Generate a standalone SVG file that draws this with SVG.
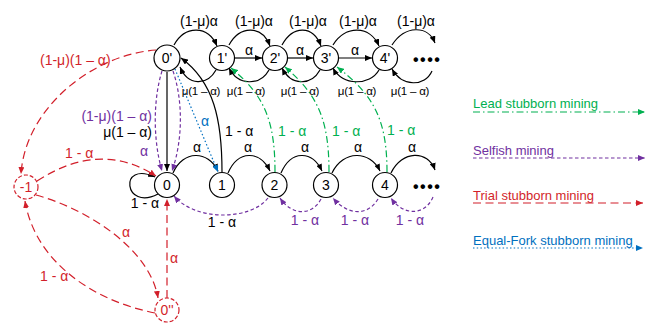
<svg xmlns="http://www.w3.org/2000/svg" width="658" height="325" viewBox="0 0 658 325">
<style>
text{font-family:"Liberation Sans",Arial,sans-serif;font-size:14px;fill:#000}
.n circle{fill:#fff;stroke:#000;stroke-width:1.2}
.n text{text-anchor:middle}
.c path{fill:none;stroke-width:1.2}
.k{stroke:#000;marker-end:url(#ak)}
.p{stroke:#7030a0;stroke-dasharray:3.5 2.5;marker-end:url(#ap)}
.g{stroke:#00b050;stroke-dasharray:7 3 1.5 3;marker-end:url(#ag)}
.r{stroke:#d21f2a;stroke-dasharray:8 4.5;marker-end:url(#ar)}
.b{stroke:#0070c0;stroke-dasharray:1.5 2.2;marker-end:url(#ab)}
.tp{fill:#7030a0}.tg{fill:#00b050}.tr{fill:#d21f2a}.tb{fill:#0070c0}
.m{text-anchor:middle}.s{font-size:11.5px;letter-spacing:-0.2px}
.leg{font-size:13px}
</style>
<defs>
<marker id="ak" markerWidth="7" markerHeight="6" refX="7" refY="3" orient="auto" markerUnits="userSpaceOnUse"><path d="M0,0 L7,3 L0,6 z" fill="#000"/></marker>
<marker id="ap" markerWidth="7" markerHeight="6" refX="7" refY="3" orient="auto" markerUnits="userSpaceOnUse"><path d="M0,0 L7,3 L0,6 z" fill="#7030a0"/></marker>
<marker id="ag" markerWidth="7" markerHeight="6" refX="7" refY="3" orient="auto" markerUnits="userSpaceOnUse"><path d="M0,0 L7,3 L0,6 z" fill="#00b050"/></marker>
<marker id="ar" markerWidth="7" markerHeight="6" refX="7" refY="3" orient="auto" markerUnits="userSpaceOnUse"><path d="M0,0 L7,3 L0,6 z" fill="#d21f2a"/></marker>
<marker id="ab" markerWidth="7" markerHeight="6" refX="7" refY="3" orient="auto" markerUnits="userSpaceOnUse"><path d="M0,0 L7,3 L0,6 z" fill="#0070c0"/></marker>
</defs>

<g id="connectors" class="c">
<!-- top row forward arcs -->
<path class="k" d="M174,45 C185,25 208,25 217,46"/>
<path class="k" d="M229,45 C240,25 262,25 270,46"/>
<path class="k" d="M282,45 C293,25 313,25 321,46"/>
<path class="k" d="M333,45 C345,25 370,25 379,46"/>
<path class="k" d="M392,45 C405,25 428,25 435,43"/>
<!-- top row back arcs -->
<path class="k" d="M216,70 C207,86 188,86 180,67"/>
<path class="k" d="M269,70 C260,86 238,86 229,68"/>
<path class="k" d="M320,70 C311,86 291,86 282,68"/>
<path class="k" d="M379,70 C370,86 342,86 333,68"/>
<path class="k" d="M432,71 C425,87 402,87 392,69"/>
<!-- top straight -->
<path class="k" d="M235,58 L262,58"/>
<path class="k" d="M288,58 L313,58"/>
<path class="k" d="M339,58 L372,58"/>
<!-- bottom row forward arcs -->
<path class="k" d="M173,173 C183,150 208,150 218,171"/>
<path class="k" d="M228,173 C238,150 260,150 270,171"/>
<path class="k" d="M281,173 C291,150 312,150 322,171"/>
<path class="k" d="M332,173 C343,150 370,150 380,171"/>
<path class="k" d="M391,173 C402,150 428,150 435,170"/>
<!-- self loop on 0 -->
<path class="k" d="M158,194 C124,212 118,160 155,177"/>
<!-- 0' -> 0 -->
<path class="k" d="M167,72 L167,171"/>
<!-- 1 -> 0' -->
<path class="k" d="M222,172 C222,120 214,82 181,58"/>
<!-- selfish 0' -> 0 -->
<path class="p" d="M162,71 C153,100 153,140 162,171"/>
<path class="p" d="M173,71 C183,100 183,140 172,171"/>
<!-- selfish bottom back arcs -->
<path class="p" d="M268,198 C250,221 195,221 174,196"/>
<path class="p" d="M321,199 C312,216 292,216 280,198"/>
<path class="p" d="M378,199 C368,216 348,216 333,198"/>
<path class="p" d="M433,197 C425,216 403,216 391,198"/>
<!-- equal fork -->
<path class="b" d="M175,69 L218,172"/>
<!-- lead stubborn -->
<path class="g" d="M275,172 C275,120 264,95 231,68"/>
<path class="g" d="M329,172 C329,120 318,95 285,67"/>
<path class="g" d="M387,172 C387,120 374,95 337,67"/>
<!-- trial stubborn -->
<path class="r" d="M156,50 C90,55 25,110 21,174"/>
<path class="r" d="M37,181 Q100,140 156,176"/>
<path class="r" d="M36,195 C90,210 150,250 158,298"/>
<path class="r" d="M155,313 C90,300 35,260 25,201"/>
<path class="r" d="M167,298 L167,199"/>
<!-- legend lines -->
<path class="g" d="M473,112 L645,112"/>
<path class="p" d="M473,158 L645,158"/>
<path class="r" d="M473,203 L643,203"/>
<path class="b" d="M473,248 L643,248"/>
</g>

<g id="labels">
<text class="m" x="199" y="26">(1-μ)α</text>
<text class="m" x="254" y="26">(1-μ)α</text>
<text class="m" x="308" y="26">(1-μ)α</text>
<text class="m" x="358" y="26">(1-μ)α</text>
<text class="m" x="416" y="26">(1-μ)α</text>
<text class="m s" x="201" y="95">μ(1 – α)</text>
<text class="m s" x="246" y="95">μ(1 – α)</text>
<text class="m s" x="300" y="95">μ(1 – α)</text>
<text class="m s" x="357" y="95">μ(1 – α)</text>
<text class="m s" x="410" y="95">μ(1 – α)</text>
<text class="m" x="249" y="55">α</text>
<text class="m" x="300" y="55">α</text>
<text class="m" x="355" y="55">α</text>
<text class="m" x="197" y="152">α</text>
<text class="m" x="248" y="152">α</text>
<text class="m" x="305" y="152">α</text>
<text class="m" x="358" y="152">α</text>
<text class="m" x="412" y="152">α</text>
<text class="m" x="145" y="208">1 - α</text>
<text x="225" y="136">1 - α</text>
<text class="tp" x="152" y="121" text-anchor="end">(1-μ)(1 – α)</text>
<text x="152" y="137" text-anchor="end">μ(1 – α)</text>
<text class="tp m" x="144" y="156">α</text>
<text class="tb m" x="205" y="126">α</text>
<text class="tg" x="278" y="136">1 - α</text>
<text class="tg" x="332" y="136">1 - α</text>
<text class="tg" x="387" y="135">1 - α</text>
<text class="m" x="222" y="227">1 - α</text>
<text class="tp m" x="305" y="225">1 - α</text>
<text class="tp m" x="355" y="225">1 - α</text>
<text class="tp m" x="410" y="225">1 - α</text>
<text class="tr" x="40" y="65">(1-μ)(1 – α)</text>
<text class="tr" x="65" y="158">1 - α</text>
<text class="tr" x="122" y="237">α</text>
<text class="tr" x="40" y="281">1 - α</text>
<text class="tr" x="170" y="263">α</text>
<text class="tg leg" x="473" y="108">Lead stubborn mining</text>
<text class="tp leg" x="473" y="155">Selfish mining</text>
<text class="tr leg" x="473" y="200">Trial stubborn mining</text>
<text class="tb leg" x="473" y="245">Equal-Fork stubborn mining</text>
</g>

<g id="node-0p" class="n"><circle cx="167" cy="58" r="13"/><text x="167" y="63">0'</text></g>
<g id="node-1p" class="n"><circle cx="222" cy="58" r="12.5"/><text x="222" y="63">1'</text></g>
<g id="node-2p" class="n"><circle cx="275" cy="58" r="12.5"/><text x="275" y="63">2'</text></g>
<g id="node-3p" class="n"><circle cx="326" cy="58" r="12.5"/><text x="326" y="63">3'</text></g>
<g id="node-4p" class="n"><circle cx="385" cy="58" r="12.5"/><text x="385" y="63">4'</text></g>
<g id="dots-top"><text x="413" y="65" style="font-size:16px;letter-spacing:1.5px;font-weight:bold">••••</text></g>
<g id="node-0" class="n"><circle cx="167" cy="185" r="12.5"/><text x="167" y="190">0</text></g>
<g id="node-1" class="n"><circle cx="222" cy="185" r="12.5"/><text x="222" y="190">1</text></g>
<g id="node-2" class="n"><circle cx="274.5" cy="185" r="12.5"/><text x="274.5" y="190">2</text></g>
<g id="node-3" class="n"><circle cx="326" cy="185" r="12.5"/><text x="326" y="190">3</text></g>
<g id="node-4" class="n"><circle cx="385" cy="185" r="12.5"/><text x="385" y="190">4</text></g>
<g id="dots-bottom"><text x="413" y="192" style="font-size:16px;letter-spacing:1.5px;font-weight:bold">••••</text></g>
<g id="node-m1" class="n"><circle cx="26" cy="187" r="12" style="stroke:#d21f2a;stroke-dasharray:4 2"/><text class="tr" x="26" y="192">-1</text></g>
<g id="node-0pp" class="n"><circle cx="167" cy="310" r="12" style="stroke:#d21f2a;stroke-dasharray:4 2"/><text class="tr" x="167" y="315">0''</text></g>
</svg>
